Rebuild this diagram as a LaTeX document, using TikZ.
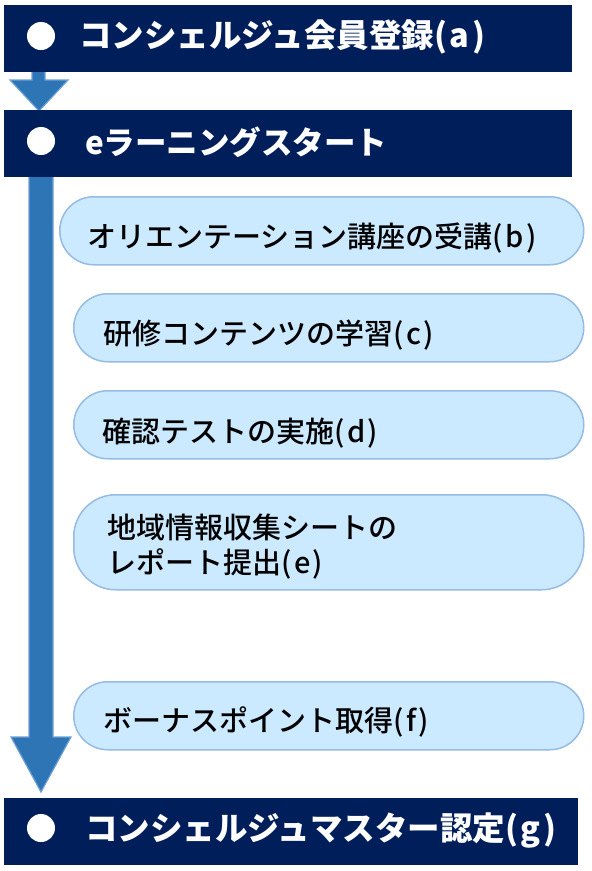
\documentclass[tikz,border=0pt]{standalone}
\usepackage{fontspec}
\newfontfamily\jp{Noto Sans CJK JP}
\newfontfamily\jpm{Noto Sans CJK JP}[UprightFont={* Medium}]
\usetikzlibrary{calc}
\newcommand\plab[1]{(\kern2.5pt#1\kern2.5pt)}
\definecolor{navy}{RGB}{0,30,90}
\definecolor{arrowfill}{RGB}{46,117,182}
\definecolor{arrowedge}{RGB}{110,160,215}
\definecolor{boxfill}{RGB}{204,234,255}
\definecolor{boxedge}{RGB}{150,187,228}
\begin{document}
\begin{tikzpicture}[x=1pt,y=-1pt,
  bar/.style={fill=navy, draw=none, inner sep=0pt, anchor=north west, minimum height=67pt},
  bullet/.style={circle, fill=white, draw=none, inner sep=0pt, minimum size=28pt},
  bartext/.style={anchor=base west, inner sep=0pt, text=white, font=\jp\bfseries\fontsize{32.5}{36}\selectfont},
  stepbox/.style={fill=boxfill, draw=boxedge, line width=1.5pt, inner sep=0pt, anchor=north west, minimum width=510pt, minimum height=68pt, rounded corners=34pt},
  boxtext/.style={anchor=base west, inner sep=0pt, text=black, font=\jpm\fontsize{29}{35}\selectfont},
  blockarrow/.style={fill=arrowfill, draw=arrowedge, line width=1.2pt, line join=miter}]
\useasboundingbox[fill=white] (0,0) rectangle (592,871);

% block arrows (drawn first, bars cover their tops)
\coordinate (sa1) at (32,70);
\coordinate (ta1) at (39,111);
\draw[blockarrow] (sa1) -- (45,70) -- (45,80) -- (68,80) -- (ta1) -- (10,80) -- (32,80) -- cycle;
\coordinate (sb1) at (29,175);
\coordinate (tb1) at (41,792);
\draw[blockarrow] (sb1) -- (53,175) -- (53,737) -- (71,737) -- (tb1) -- (11,737) -- (29,737) -- cycle;

% bars
\node[bar, minimum width=568pt] (a) at (4,5) {};
\node[bar, minimum width=568pt] (s) at (4,110) {};
\node[bar, minimum width=574pt] (g) at (4,798) {};

\node[bullet] (ca) at (41,36) {};
\node[bullet] (cs) at (41,141) {};
\node[bullet] (cg) at (41,828) {};

\node[bartext] (ta) at (79,47.5) {コンシェルジュ会員登録\plab{a}};
\node[bartext, font=\jp\bfseries\fontsize{31.5}{36}\selectfont] (ts) at (85,154) {eラーニングスタート};
\node[bartext] (tg) at (85,840) {コンシェルジュマスター認定\plab{g}};

% step boxes
\node[stepbox, minimum width=524pt] (b) at (59,196) {};
\node[stepbox] (c) at (73,293) {};
\node[stepbox] (d) at (73,390) {};
\node[stepbox, minimum height=95pt, rounded corners=42pt] (e) at (73,494) {};
\node[stepbox] (f) at (73,681) {};

\node[boxtext] (tb) at (87,247.5) {オリエンテーション講座の受講\plab{b}};
\node[boxtext] (tc) at (103,344) {研修コンテンツの学習\plab{c}};
\node[boxtext] (td) at (102,442.5) {確認テストの実施\plab{d}};
\node[boxtext] (te1) at (107,538) {地域情報収集シートの};
\node[boxtext] (te2) at (107,573) {レポート提出\plab{e}};
\node[boxtext] (tf) at (103,731) {ボーナスポイント取得\plab{f}};
\end{tikzpicture}
\end{document}
